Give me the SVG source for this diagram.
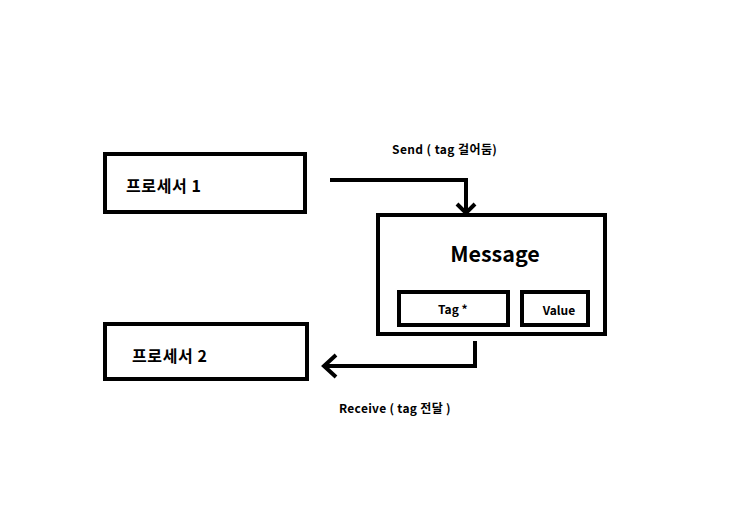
<svg xmlns="http://www.w3.org/2000/svg" width="743" height="526" viewBox="0 0 743 526">
<style>
.box{fill:#fff;stroke:#000;stroke-width:4}
.t{font-family:"Noto Sans CJK KR","Noto Sans",sans-serif;font-weight:bold;fill:#000}
.c{fill:none;stroke:#000;stroke-width:4;stroke-linejoin:miter}
</style>
<rect width="743" height="526" fill="#fff"/>
<g id="p1">
<rect class="box" x="105" y="154" width="200" height="58"/>
<text class="t" x="126" y="192" font-size="16" letter-spacing="0.6">프로세서 1</text>
</g>
<g id="p2">
<rect class="box" x="105" y="324" width="202" height="55"/>
<text class="t" x="132" y="362" font-size="16" letter-spacing="0.6">프로세서 2</text>
</g>
<g id="message">
<rect class="box" x="378" y="215" width="227" height="119"/>
<text class="t" x="495" y="262" font-size="21.5" text-anchor="middle">Message</text>
</g>
<g id="tag">
<rect class="box" x="399" y="292" width="109" height="33"/>
<text class="t" x="438" y="314" font-size="12">Tag *</text>
</g>
<g id="value">
<rect class="box" x="522" y="292" width="66" height="33"/>
<text class="t" x="559" y="315" font-size="12" text-anchor="middle">Value</text>
</g>
<g id="connectors">
<polyline class="c" points="330,180 466,180 466,213"/>
<polyline class="c" points="457,204 466,213 475,204"/>
<polyline class="c" points="475,341 475,366 324,366"/>
<polyline class="c" points="336,355 324,366 336,377"/>
<text class="t" x="392" y="154" font-size="12" letter-spacing="0.4">Send ( tag 걸어둠)</text>
<text class="t" x="339" y="413" font-size="12" letter-spacing="0.3">Receive ( tag 전달 )</text>
</g>
</svg>
